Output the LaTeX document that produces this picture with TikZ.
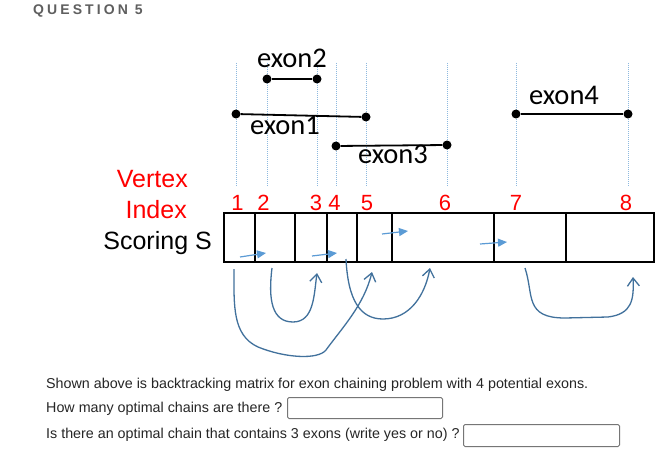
\documentclass[tikz,border=0pt]{standalone}
\usepackage{fontspec}
\setmainfont{Liberation Sans}
\newfontfamily\calib{Carlito}
\newfontfamily\qfont[LetterSpace=22]{Liberation Sans}
\usetikzlibrary{arrows.meta}
\definecolor{inkc}{HTML}{41719C}
\definecolor{sarrow}{HTML}{5B9BD5}
\definecolor{guide}{HTML}{8DB9DF}
\definecolor{txt}{HTML}{262626}
\definecolor{qgray}{HTML}{5F5F5F}
\definecolor{boxgray}{HTML}{767676}
\begin{document}
\begin{tikzpicture}[x=1pt,y=-1pt,
  lbl/.style={font=\fontsize{25}{30}\selectfont, anchor=base east, inner sep=0pt},
  num/.style={text=red, font=\fontsize{22}{26}\selectfont, anchor=base, inner sep=0pt},
  exlbl/.style={font=\calib\fontsize{28.5}{34}\selectfont, anchor=base, inner sep=0pt},
  dot/.style={circle, fill=black, inner sep=0pt, minimum size=9pt},
  exon/.style={line width=1.8pt},
  guideline/.style={draw=guide, line width=0.6pt, dash pattern=on 1pt off 1pt},
  cell/.style={draw, line width=1.8pt, minimum height=49pt, inner sep=0pt, anchor=south west},
  inkarrow/.style={draw=inkc, line width=1.3pt, -{Straight Barb[length=8pt,width=12pt]}},
  minarrow/.style={draw=sarrow, line width=1.2pt, -{Triangle[length=9pt,width=8pt]}},
  qbox/.style={draw=boxgray, line width=1pt, rounded corners=1.5pt, anchor=north west, inner sep=0pt},
  bodytext/.style={font=\fontsize{14.3}{17}\selectfont, text=txt, anchor=base west, inner sep=0pt}
]
\fill[white] (0,0) rectangle (662,460);
\useasboundingbox (0,0) rectangle (662,460);

% title
\node[anchor=base west, inner sep=0pt, text=qgray, font=\qfont\bfseries\fontsize{14}{16}\selectfont] (q) at (33,15) {QUESTION 5};

% guide lines
\foreach \gx [count=\i] in {236,267,317,336,366,447,516,628} {
  \coordinate (g\i top) at (\gx,63);
  \coordinate (g\i bot) at (\gx,187);
  \draw[guideline] (g\i top) -- (g\i bot);
}

% exons
\node[dot] (e1a) at (236,114) {};
\node[dot] (e1b) at (366,117) {};
\node[dot] (e2a) at (267,79) {};
\node[dot] (e2b) at (317,79) {};
\node[dot] (e3a) at (336,146) {};
\node[dot] (e3b) at (447,145) {};
\node[dot] (e4a) at (516,114) {};
\node[dot] (e4b) at (628,114) {};
\draw[exon] (e1a) -- (e1b);
\draw[exon] (e2a) -- (e2b);
\draw[exon] (e3a) -- (e3b);
\draw[exon] (e4a) -- (e4b);
\node[exlbl] (l2) at (292,68) {exon2};
\node[exlbl] (l1) at (285,135) {exon1};
\node[exlbl] (l3) at (393,164) {exon3};
\node[exlbl] (l4) at (564,105) {exon4};

% row labels
\node[lbl, text=red] (vx) at (188,187) {Vertex};
\node[lbl, text=red] (ix) at (187,218) {Index};
\node[lbl] (sc) at (212,249) {Scoring S};

% vertex numbers
\node[num] (n1) at (237.5,210) {1};
\node[num] (n2) at (263.5,210) {2};
\node[num] (n3) at (316,210) {3};
\node[num] (n4) at (334.5,210) {4};
\node[num] (n5) at (367,210) {5};
\node[num] (n6) at (445,210) {6};
\node[num] (n7) at (516,210) {7};
\node[num] (n8) at (626,210) {8};

% cells
\node[cell, minimum width=31pt] (c1) at (223,263) {};
\node[cell, minimum width=40pt] (c2) at (254,263) {};
\node[cell, minimum width=32pt] (c3) at (294,263) {};
\node[cell, minimum width=30pt] (c4) at (326,263) {};
\node[cell, minimum width=35pt] (c5) at (356,263) {};
\node[cell, minimum width=102pt] (c6) at (391,263) {};
\node[cell, minimum width=72pt] (c7) at (493,263) {};
\node[cell, minimum width=88pt] (c8) at (565,263) {};

% small arrows in cells
\coordinate (a1s) at (240,257); \coordinate (a1e) at (266,253);
\coordinate (a2s) at (312,256); \coordinate (a2e) at (337,253);
\coordinate (a3s) at (382,234); \coordinate (a3e) at (408,231);
\coordinate (a4s) at (480,244); \coordinate (a4e) at (507,242);
\draw[minarrow] (a1s) -- (a1e);
\draw[minarrow] (a2s) -- (a2e);
\draw[minarrow] (a3s) -- (a3e);
\draw[minarrow] (a4s) -- (a4e);

% hand-drawn backtracking arrows
\coordinate (s1) at (234,269); \coordinate (t1) at (372,272);
\coordinate (s2) at (272,268); \coordinate (t2) at (317,273);
\coordinate (s3) at (346,259); \coordinate (t3) at (430,268);
\coordinate (s4) at (525,268); \coordinate (t4) at (633,277);
\draw[inkarrow] (s1) .. controls (234,305) and (232,335) .. (258,347)
  .. controls (285,358) and (318,360) .. (326,350)
  .. controls (342,328) and (364,305) .. (t1);
\draw[inkarrow] (s2) .. controls (268,300) and (272,322) .. (293,322)
  .. controls (314,322) and (314,295) .. (t2);
\draw[inkarrow] (s3) .. controls (348,300) and (360,319) .. (383,319)
  .. controls (410,319) and (425,295) .. (t3);
\draw[inkarrow] (s4) .. controls (534,295) and (524,318) .. (565,318)
  -- (608,317) .. controls (632,314) and (634,300) .. (t4);

% question text
\node[bodytext] (p1) at (46,388) {Shown above is backtracking matrix for exon chaining problem with 4 potential exons.};
\node[bodytext] (p2) at (46,412) {How many optimal chains are there ?};
\node[bodytext] (p3) at (46,438) {Is there an optimal chain that contains 3 exons (write yes or no) ?};
\node[qbox, minimum width=155pt, minimum height=21pt] (ans1) at (287,397) {};
\node[qbox, minimum width=156pt, minimum height=22pt] (ans2) at (463,424) {};
\end{tikzpicture}
\end{document}
